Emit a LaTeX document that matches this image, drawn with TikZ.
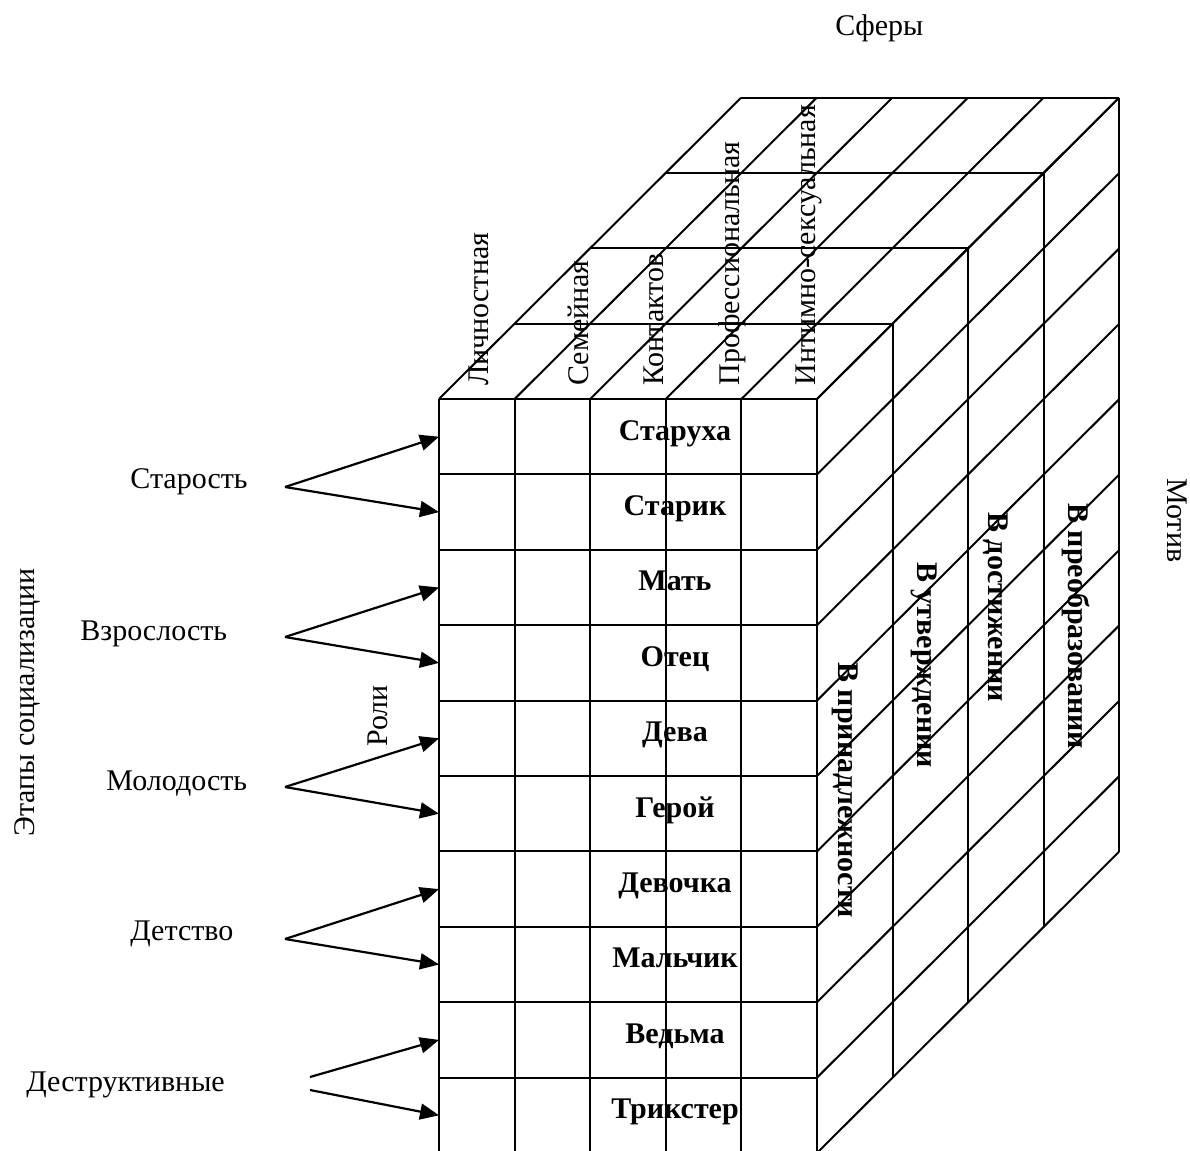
\documentclass[tikz,border=0pt]{standalone}
\usepackage{fontspec}
\setmainfont{Liberation Serif}
\usetikzlibrary{arrows.meta}
\begin{document}
\begin{tikzpicture}[x=0.5pt,y=-0.5pt,
  gridline/.style={line width=1pt},
  lbl/.style={inner sep=0pt, font=\fontsize{15}{18}\selectfont},
  blbl/.style={inner sep=0pt, font=\fontsize{15}{18}\selectfont\bfseries},
  arr/.style={line width=1.1pt, -{Triangle[length=9.5pt,width=8pt]}}]
\useasboundingbox (0,0) rectangle (1190,1151);
% front face
\foreach \i in {0,...,5} \draw[gridline] ({439+75.6*\i},399) -- ({439+75.6*\i},1153);
\foreach \j in {0,...,9} \draw[gridline] (439,{399+75.4*\j}) -- (817,{399+75.4*\j});
% top face
\foreach \k in {1,...,4} \draw[gridline] ({439+75.5*\k},{399-75.3*\k}) -- ({817+75.5*\k},{399-75.3*\k});
\foreach \i in {0,...,5} \draw[gridline] ({439+75.6*\i},399) -- ({741+75.6*\i},97.8);
% right face
\foreach \k in {1,...,4} \draw[gridline] ({817+75.5*\k},{399-75.3*\k}) -- ({817+75.5*\k},{1153-75.3*\k});
\foreach \j in {0,...,10} \draw[gridline] (817,{399+75.4*\j}) -- (1119,{97.8+75.4*\j});

% titles
\node[lbl, anchor=base west] (sfery) at (835,35) {Сферы};
\node[lbl, anchor=base west, rotate=-90] (motiv) at (1167,478) {Мотив};
\node[lbl, anchor=base west, rotate=90] (etapy) at (34,837) {Этапы социализации};
\node[lbl, anchor=base west, rotate=90] (roli) at (387,747) {Роли};

% column labels
\node[lbl, anchor=base west, rotate=90] (s1) at (488,386) {Личностная};
\node[lbl, anchor=base west, rotate=90] (s2) at (588,386) {Семейная};
\node[lbl, anchor=base west, rotate=90] (s3) at (663,386) {Контактов};
\node[lbl, anchor=base west, rotate=90] (s4) at (739,386) {Профессиональная};
\node[lbl, anchor=base west, rotate=90] (s5) at (815,386) {Интимно-сексуальная};

% motive labels
\node[blbl, anchor=base west, rotate=-90] (m1) at (838,662) {В принадлежности};
\node[blbl, anchor=base west, rotate=-90] (m2) at (917,562) {В утверждении};
\node[blbl, anchor=base west, rotate=-90] (m3) at (988,512) {В достижении};
\node[blbl, anchor=base west, rotate=-90] (m4) at (1068,503) {В преобразовании};

% role labels
\foreach \t [count=\n] in {Старуха,Старик,Мать,Отец,Дева,Герой,Девочка,Мальчик,Ведьма,Трикстер}
  \node[blbl, anchor=base] (r\n) at (675,{440+75.4*(\n-1)}) {\t};

% stage labels
\node[lbl, anchor=base west] (st1) at (130,488) {Старость};
\node[lbl, anchor=base west] (st2) at (80,640) {Взрослость};
\node[lbl, anchor=base west] (st3) at (106,790) {Молодость};
\node[lbl, anchor=base west] (st4) at (130,940) {Детство};
\node[lbl, anchor=base west] (st5) at (26,1091) {Деструктивные};

% arrow coordinates
\foreach \n in {1,...,10} \coordinate (e\n) at (439,{436.7+75.4*(\n-1)});
\coordinate (a1) at (285,487);
\coordinate (a2) at (285,637);
\coordinate (a3) at (285,787);
\coordinate (a4) at (285,939);
\coordinate (d1) at (310,1077);
\coordinate (d2) at (310,1090);

\draw[arr] (a1) -- (e1);
\draw[arr] (a1) -- (e2);
\draw[arr] (a2) -- (e3);
\draw[arr] (a2) -- (e4);
\draw[arr] (a3) -- (e5);
\draw[arr] (a3) -- (e6);
\draw[arr] (a4) -- (e7);
\draw[arr] (a4) -- (e8);
\draw[arr] (d1) -- (e9);
\draw[arr] (d2) -- (e10);
\end{tikzpicture}
\end{document}
